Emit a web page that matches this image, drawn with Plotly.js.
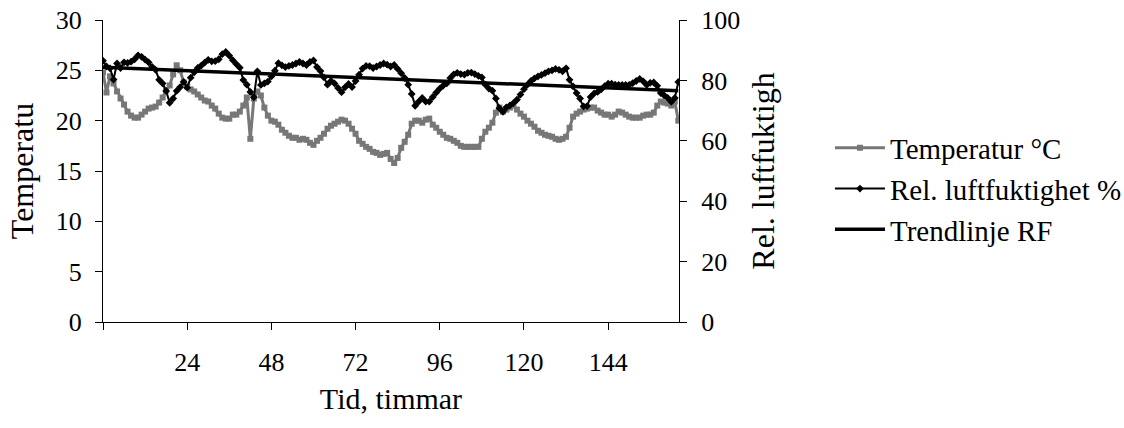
<!DOCTYPE html>
<html>
<head>
<meta charset="utf-8">
<script src="https://cdn.plot.ly/plotly-3.0.1.min.js"></script>
<style>
  html, body { margin: 0; padding: 0; background: #ffffff; }
  #chart { width: 1124px; height: 428px; }
</style>
</head>
<body>
<div id="chart"></div>
<script>
// Hourly readings, hours 0..164
const hours = [
  0,1,2,3,4,5,6,7,8,9,10,11,12,13,14,15,16,17,18,19,
  20,21,22,23,24,25,26,27,28,29,30,31,32,33,34,35,36,37,38,39,
  40,41,42,43,44,45,46,47,48,49,50,51,52,53,54,55,56,57,58,59,
  60,61,62,63,64,65,66,67,68,69,70,71,72,73,74,75,76,77,78,79,
  80,81,82,83,84,85,86,87,88,89,90,91,92,93,94,95,96,97,98,99,
  100,101,102,103,104,105,106,107,108,109,110,111,112,113,114,115,116,117,118,119,
  120,121,122,123,124,125,126,127,128,129,130,131,132,133,134,135,136,137,138,139,
  140,141,142,143,144,145,146,147,148,149,150,151,152,153,154,155,156,157,158,159,
  160,161,162,163,164
];

// Temperatur °C
const temperature = [
  24.8,22.8,24.4,23.7,22.9,22.2,21.6,20.9,20.5,20.3,20.3,20.6,20.9,21.2,21.3,21.4,21.8,22.3,23.0,23.5,
  24.6,25.5,25.0,23.8,23.4,23.1,22.9,22.6,22.3,22.0,21.9,21.5,21.2,20.7,20.3,20.2,20.2,20.6,20.6,20.9,
  21.5,22.3,18.2,22.2,22.9,22.5,21.3,20.5,20.0,19.9,19.6,19.1,18.8,18.5,18.3,18.3,18.1,18.2,18.1,17.8,
  17.6,18.0,18.3,18.7,19.2,19.5,19.7,19.9,20.1,20.0,19.7,19.2,18.7,18.0,17.7,17.4,17.2,16.9,16.8,16.6,
  16.7,16.8,16.2,15.8,16.3,17.3,17.9,18.6,19.7,20.0,20.0,19.8,20.1,20.2,19.6,19.3,18.9,18.6,18.3,18.2,
  18.0,17.8,17.5,17.4,17.4,17.4,17.4,17.4,18.2,18.9,19.3,19.8,20.8,21.3,20.9,21.1,21.3,21.5,21.1,20.7,
  20.4,20.0,19.7,19.4,19.0,18.8,18.6,18.5,18.4,18.2,18.1,18.2,18.4,19.3,20.4,20.7,20.9,21.1,21.2,21.3,
  21.3,21.0,20.8,20.6,20.6,20.4,20.6,20.9,20.8,20.6,20.4,20.3,20.3,20.3,20.5,20.6,20.6,20.8,21.5,21.9,
  21.8,21.7,21.5,21.9,20.0
];

// Rel. luftfuktighet %
const humidity = [
  86.5,84.6,84.0,80.3,85.6,84.1,86.0,85.8,86.2,87.0,88.3,87.8,86.9,86.0,84.5,83.5,80.2,79.0,76.5,72.6,
  74.0,76.5,77.8,79.5,77.6,80.9,82.7,84.1,84.9,85.9,86.8,86.3,86.4,87.0,88.7,89.4,88.2,86.7,85.4,84.2,
  80.1,78.6,76.2,74.4,83.0,78.5,79.0,79.6,81.3,83.2,85.7,85.0,84.4,84.8,85.1,85.6,86.1,85.6,85.1,86.1,
  86.6,84.4,83.1,81.0,78.6,79.8,79.0,77.5,76.1,77.7,78.8,77.8,79.8,81.9,83.9,84.8,84.7,84.1,84.6,85.1,
  85.6,85.2,84.6,85.1,83.8,82.4,80.8,78.6,75.5,71.6,73.0,74.2,73.0,73.0,74.5,76.0,77.3,78.3,79.0,80.8,
  82.0,82.5,82.1,81.9,82.5,82.6,82.1,81.5,81.0,78.6,77.3,76.6,74.0,70.8,69.6,71.1,71.7,72.5,73.6,75.3,
  77.1,78.6,79.8,80.7,81.3,81.8,82.4,83.0,83.3,83.8,83.5,83.0,84.0,80.2,78.0,75.8,74.0,71.4,71.5,74.5,
  75.7,76.2,77.0,78.1,78.9,78.9,78.6,78.5,78.5,78.5,78.5,79.1,79.8,80.5,79.7,78.5,79.2,79.3,78.2,75.8,
  75.0,74.2,72.9,74.2,79.5
];

const xTickVals = [0, 24, 48, 72, 96, 120, 144];
const xTickText = ['', '24', '48', '72', '96', '120', '144'];

// Least-squares linear trend of the humidity series (Trendlinje RF)
function linearTrend(xs, ys) {
  const n = xs.length;
  let sx = 0, sy = 0, sxx = 0, sxy = 0;
  for (let i = 0; i < n; i++) {
    sx += xs[i]; sy += ys[i]; sxx += xs[i] * xs[i]; sxy += xs[i] * ys[i];
  }
  const slope = (n * sxy - sx * sy) / (n * sxx - sx * sx);
  const intercept = (sy - slope * sx) / n;
  const x0 = xs[0], x1 = xs[n - 1];
  return { x: [x0, x1], y: [intercept + slope * x0, intercept + slope * x1] };
}
const trend = linearTrend(hours, humidity);

const FONT = 'Liberation Serif, Times New Roman, serif';
const X_RANGE = [0, 164.2];

const traces = [
  {
    x: hours, y: temperature, name: 'Temperatur °C',
    type: 'scatter', mode: 'lines+markers',
    line: { color: '#777777', width: 3 },
    marker: { symbol: 'square', size: 6, color: '#777777' },
    xaxis: 'x', yaxis: 'y'
  },
  {
    x: hours, y: humidity, name: 'Rel. luftfuktighet %',
    type: 'scatter', mode: 'lines+markers',
    line: { color: '#000000', width: 2 },
    marker: { symbol: 'diamond', size: 6, color: '#000000' },
    xaxis: 'x', yaxis: 'y2'
  },
  {
    x: trend.x, y: trend.y, name: 'Trendlinje RF',
    type: 'scatter', mode: 'lines',
    line: { color: '#000000', width: 3.5 },
    xaxis: 'x', yaxis: 'y2'
  }
];

const tickFont = { family: FONT, size: 26, color: '#000000' };

const layout = {
  width: 1124, height: 428,
  margin: { l: 103, r: 445, t: 20, b: 106, pad: 0, autoexpand: false },
  paper_bgcolor: '#ffffff', plot_bgcolor: '#ffffff',
  showlegend: true,
  legend: {
    xref: 'container', yref: 'container',
    x: 0.7384, xanchor: 'left', y: 0.5584, yanchor: 'middle',
    font: { family: FONT, size: 29, color: '#000000' },
    bgcolor: 'rgba(0,0,0,0)', borderwidth: 0, tracegroupgap: 0,
    itemwidth: 50
  },
  xaxis: {
    range: X_RANGE, tickmode: 'array', tickvals: xTickVals, ticktext: xTickText,
    ticks: 'outside', ticklen: 7, tickwidth: 1, tickcolor: '#000000',
    showline: true, linecolor: '#000000', linewidth: 1,
    showgrid: false, zeroline: false, tickfont: tickFont, ticklabelstandoff: 10,
    title: { text: 'Tid, timmar', font: { family: FONT, size: 30, color: '#000000' }, standoff: 11 },
    anchor: 'y', automargin: false
  },
  xaxis2: {
    range: X_RANGE, tickmode: 'array', tickvals: xTickVals,
    ticks: 'inside', ticklen: 7, tickwidth: 1, tickcolor: '#000000',
    showticklabels: false, showline: false, showgrid: false, zeroline: false,
    overlaying: 'x', anchor: 'y', side: 'bottom'
  },
  yaxis: {
    range: [0, 30], dtick: 5, tick0: 0,
    ticks: 'outside', ticklen: 7, tickwidth: 1, tickcolor: '#000000',
    showline: true, linecolor: '#000000', linewidth: 1,
    showgrid: false, zeroline: false, tickfont: tickFont, ticklabelstandoff: 8,
    title: { text: 'Temperatu', font: { family: FONT, size: 32, color: '#000000' }, standoff: 12 },
    automargin: false
  },
  yaxis3: {
    range: [0, 30], dtick: 5, tick0: 0,
    ticks: 'inside', ticklen: 7, tickwidth: 1, tickcolor: '#000000',
    showticklabels: false, showline: false, showgrid: false, zeroline: false,
    overlaying: 'y', side: 'left', anchor: 'x'
  },
  yaxis2: {
    range: [0, 100], dtick: 20, tick0: 0,
    ticks: 'outside', ticklen: 7, tickwidth: 1, tickcolor: '#000000',
    showline: true, linecolor: '#000000', linewidth: 1,
    showgrid: false, zeroline: false, tickfont: tickFont, ticklabelstandoff: 9,
    title: { text: 'Rel. luftfuktigh', font: { family: FONT, size: 32, color: '#000000' }, standoff: 12 },
    overlaying: 'y', side: 'right', anchor: 'x', automargin: false
  },
  yaxis4: {
    range: [0, 100], dtick: 20, tick0: 0,
    ticks: 'inside', ticklen: 7, tickwidth: 1, tickcolor: '#000000',
    showticklabels: false, showline: false, showgrid: false, zeroline: false,
    overlaying: 'y', side: 'right', anchor: 'x'
  }
};

Plotly.newPlot('chart', traces, layout, { displayModeBar: false, staticPlot: true });
</script>
</body>
</html>
